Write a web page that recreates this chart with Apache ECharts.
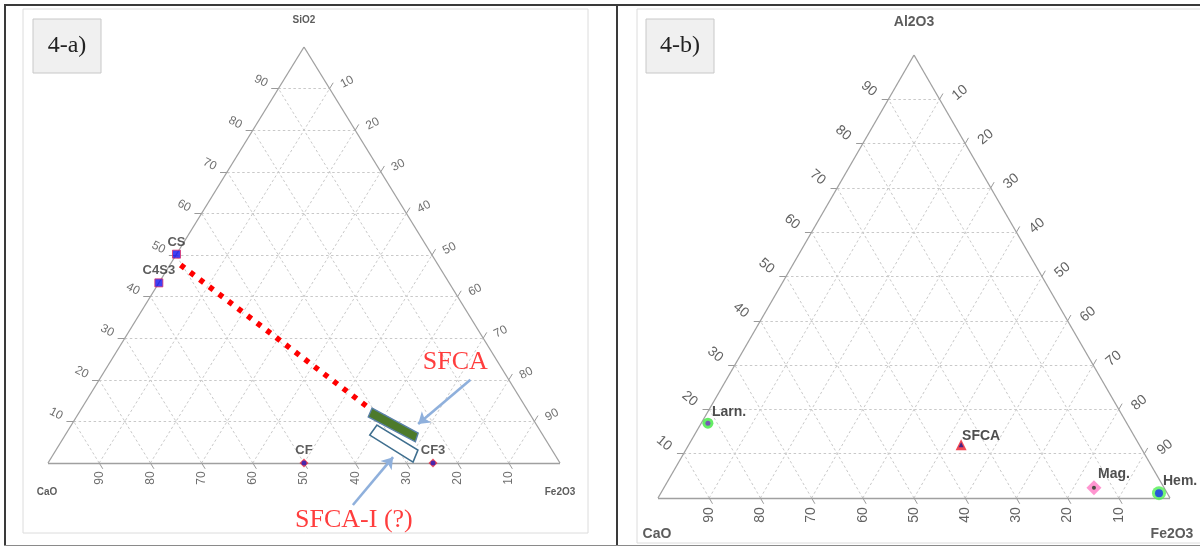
<!DOCTYPE html>
<html>
<head>
<meta charset="utf-8">
<script src="https://cdn.jsdelivr.net/npm/echarts@6/dist/echarts.min.js"></script>
<style>
  html, body { margin: 0; padding: 0; background: #fff; }
  #chart { width: 1200px; height: 547px; }
</style>
</head>
<body>
<div id="chart"></div>
<script>
// Percentage ticks shared by all three edges of both diagrams
const ticks = [10, 20, 30, 40, 50, 60, 70, 80, 90];

// 4-a) CaO–SiO2–Fe2O3 (wt%): each composition stored as SiO2 / Fe2O3, CaO is the remainder
const phaseNamesA = ['CS', 'C4S3', 'CF', 'CF3'];
const phaseSiO2A = [50.2, 43.3, 0, 0];
const phaseFe2O3A = [0, 0, 50, 75.2];
// dotted join from the CS corner towards the SFCA field
const tieSiO2 = [47.6, 12.7];
const tieFe2O3 = [2.1, 56.9];
// SFCA field (filled band) and SFCA-I field (open box), corner compositions
const sfcaSiO2 = [13.2, 7.2, 5.1, 11.1];
const sfcaFe2O3 = [56.7, 68.7, 69.2, 57.0];
const sfcaISiO2 = [9.1, 3.1, 0.2, 6.7];
const sfcaIFe2O3 = [59.7, 70.7, 71.2, 59.5];
// annotations: [text anchor, arrow tail, arrow head]
const noteSfcaSiO2 = [24.3, 20.0, 9.4];
const noteSfcaFe2O3 = [67.4, 72.5, 67.6];
const noteSfcaISiO2 = [-13.7, -10.1, 1.4];
const noteSfcaIFe2O3 = [66.6, 64.6, 66.7];

// 4-b) CaO–Al2O3–Fe2O3 (wt%): Al2O3 / Fe2O3, CaO is the remainder
const phaseNamesB = ['Larn.', 'SFCA', 'Mag.', 'Hem.'];
const phaseAl2O3B = [16.9, 12.0, 2.3, 1.1];
const phaseFe2O3B = [1.3, 53.2, 84.0, 97.3];

const SANS = 'Liberation Sans, Arial, sans-serif';
const SERIF = 'Liberation Serif, Times New Roman, serif';

// ternary (top component, right component) -> cartesian data space of the grid
function tern(top, right) { return [right + top / 2, top]; }

function triangleSeries(gi, st) {
  const ax = { xAxisIndex: gi, yAxisIndex: gi };
  const gridLines = [];
  ticks.forEach(k => {
    gridLines.push({ coords: [tern(k, 0), tern(k, 100 - k)] });
    gridLines.push({ coords: [tern(0, k), tern(100 - k, k)] });
    gridLines.push({ coords: [tern(0, 100 - k), tern(100 - k, 0)] });
  });
  const d = st.tickLen;
  const tickSegs = [];
  ticks.forEach(k => {
    tickSegs.push({ coords: [tern(k, 0), [k / 2 - d, k]] });
    tickSegs.push({ coords: [tern(100 - k, k), tern(100 - k + d, k)] });
    tickSegs.push({ coords: [tern(0, 100 - k), tern(-d, 100 - k + d)] });
  });
  const edges = [
    { coords: [tern(0, 0), tern(100, 0)] },
    { coords: [tern(100, 0), tern(0, 100)] },
    { coords: [tern(0, 100), tern(0, 0)] }
  ];
  const labelSeries = (pts, off, rot) => ({
    type: 'scatter', ...ax, clip: false, silent: true, z: 3,
    symbolSize: 1, itemStyle: { color: 'transparent' },
    data: pts,
    label: {
      show: true, formatter: p => p.name, position: off, rotate: rot,
      align: 'center', verticalAlign: 'middle',
      fontSize: st.tickFont, color: st.tickColor, fontFamily: SANS
    }
  });
  const vertexSeries = {
    type: 'scatter', ...ax, clip: false, silent: true, z: 3,
    symbolSize: 1, itemStyle: { color: 'transparent' },
    data: [
      { name: st.names[0], value: tern(100, 0), label: { position: st.nameOff[0] } },
      { name: st.names[1], value: tern(0, 0), label: { position: st.nameOff[1] } },
      { name: st.names[2], value: tern(0, 100), label: { position: st.nameOff[2] } }
    ],
    label: {
      show: true, formatter: p => p.name, align: 'center', verticalAlign: 'middle',
      fontSize: st.nameFont, fontWeight: 'bold', color: '#333', fontFamily: SANS
    }
  };
  return [
    { type: 'lines', coordinateSystem: 'cartesian2d', ...ax, clip: false, silent: true, z: 1,
      data: gridLines, lineStyle: { color: '#c9c9c9', width: 1, type: [2.5, 2.5], opacity: 1 } },
    { type: 'lines', coordinateSystem: 'cartesian2d', ...ax, clip: false, silent: true, z: 2,
      data: tickSegs, lineStyle: { color: '#9a9a9a', width: 1, opacity: 1 } },
    { type: 'lines', coordinateSystem: 'cartesian2d', ...ax, clip: false, silent: true, z: 2,
      data: edges, lineStyle: { color: '#a0a0a0', width: 1.3, opacity: 1 } },
    labelSeries(ticks.map(k => ({ name: String(k), value: tern(k, 0) })), st.leftOff, -st.rot),
    labelSeries(ticks.map(k => ({ name: String(k), value: tern(100 - k, k) })), st.rightOff, st.rot),
    labelSeries(ticks.map(k => ({ name: String(k), value: tern(0, 100 - k) })), st.bottomOff, 90),
    vertexSeries
  ];
}

function polygonSeries(gi, tops, rights, style, z) {
  const corners = tops.map((t, i) => tern(t, rights[i]));
  return {
    type: 'custom', xAxisIndex: gi, yAxisIndex: gi, clip: false, silent: true, z,
    data: [corners[0]],
    renderItem: (params, api) => ({
      type: 'polygon',
      shape: { points: corners.map(c => api.coord(c)) },
      style: style
    })
  };
}

function arrowSeries(gi, tops, rights) {
  return {
    type: 'lines', coordinateSystem: 'cartesian2d', xAxisIndex: gi, yAxisIndex: gi,
    clip: false, silent: true, z: 6,
    symbol: ['none', 'arrow'], symbolSize: 11,
    data: [{ coords: [tern(tops[1], rights[1]), tern(tops[2], rights[2])] }],
    lineStyle: { color: '#8fb0dc', width: 2.6, opacity: 1 }
  };
}

function noteSeries(gi, text, tops, rights) {
  return {
    type: 'scatter', xAxisIndex: gi, yAxisIndex: gi, clip: false, silent: true, z: 7,
    symbolSize: 1, itemStyle: { color: 'transparent' },
    data: [{ name: text, value: tern(tops[0], rights[0]) }],
    label: {
      show: true, formatter: p => p.name, position: [0.5, 0.5], align: 'center', verticalAlign: 'middle',
      fontSize: 26, color: '#ff0d0d', fontFamily: SERIF
    }
  };
}

const styleA = {
  tickLen: 1.4, tickFont: 12, tickColor: '#4a4a4a', rot: 27,
  leftOff: [-17, -7], rightOff: [18, -6], bottomOff: [0.5, 15.5],
  names: ['SiO2', 'CaO', 'Fe2O3'], nameFont: 10,
  nameOff: [[0.5, -26.5], [-0.5, 29.5], [0.5, 29.5]]
};
const styleB = {
  tickLen: 1.3, tickFont: 14, tickColor: '#3a3a3a', rot: 40,
  leftOff: [-19, -10], rightOff: [21, -6], bottomOff: [0.5, 17.5],
  names: ['Al2O3', 'CaO', 'Fe2O3'], nameFont: 14,
  nameOff: [[0.5, -32.5], [-0.5, 36.5], [2.5, 36.5]]
};

const ptsA = phaseNamesA.map((n, i) => ({ name: n, value: tern(phaseSiO2A[i], phaseFe2O3A[i]) }));
const ptsB = phaseNamesB.map((n, i) => ({ name: n, value: tern(phaseAl2O3B[i], phaseFe2O3B[i]) }));

// 4-b) marker looks: halo symbol/size/colour, core symbol/size/colour, name offset from rect corner
const haloB = [['circle', 11, '#3ee83e'], ['triangle', 11, '#ee1c2c'], ['diamond', 15, '#ff7ac4'], ['circle', 14, '#52f052']];
const coreB = [['circle', 5, '#7a34c8'], ['triangle', 5, '#1a1a90'], ['circle', 4, '#1e3a1e'], ['circle', 8, '#1430f0']];
const nameOffB = [[9.5, -5.5], [6.5, -3.5], [11.5, -6.5], [11, -5]];

const series = [
  ...triangleSeries(0, styleA),
  ...triangleSeries(1, styleB),

  // 4-a) dotted join, SFCA fields, arrows and notes
  { type: 'lines', coordinateSystem: 'cartesian2d', xAxisIndex: 0, yAxisIndex: 0, clip: false, silent: true, z: 4,
    data: [{ coords: [tern(tieSiO2[0], tieFe2O3[0]), tern(tieSiO2[1], tieFe2O3[1])] }],
    lineStyle: { color: '#ff0000', width: 5.5, type: [5, 7], cap: 'butt', opacity: 1 } },
  polygonSeries(0, sfcaISiO2, sfcaIFe2O3, { fill: '#ffffff', stroke: '#3f6f8f', lineWidth: 1.6 }, 5),
  polygonSeries(0, sfcaSiO2, sfcaFe2O3, { fill: '#4d7a2b', stroke: '#5a80a8', lineWidth: 1.4 }, 5),
  arrowSeries(0, noteSfcaSiO2, noteSfcaFe2O3),
  arrowSeries(0, noteSfcaISiO2, noteSfcaIFe2O3),
  noteSeries(0, 'SFCA', noteSfcaSiO2, noteSfcaFe2O3),
  noteSeries(0, 'SFCA-I (?)', noteSfcaISiO2, noteSfcaIFe2O3),

  // 4-a) phases: silicates as squares, ferrites as diamonds
  { type: 'scatter', xAxisIndex: 0, yAxisIndex: 0, clip: false, z: 8,
    data: ptsA.slice(0, 2), symbol: 'rect', symbolSize: 8,
    itemStyle: { color: '#1010f0', borderColor: '#e0306a', borderWidth: 1 },
    label: { show: true, formatter: p => p.name, position: 'top', distance: 1,
      fontSize: 13, fontWeight: 'bold', color: '#333', fontFamily: SANS } },
  { type: 'scatter', xAxisIndex: 0, yAxisIndex: 0, clip: false, z: 8,
    data: ptsA.slice(2), symbol: 'diamond', symbolSize: 9,
    itemStyle: { color: '#e8203a' },
    label: { show: true, formatter: p => p.name, position: 'top', distance: 2,
      fontSize: 13, fontWeight: 'bold', color: '#333', fontFamily: SANS } },
  { type: 'scatter', xAxisIndex: 0, yAxisIndex: 0, clip: false, z: 9,
    data: ptsA.slice(2), symbol: 'circle', symbolSize: 5, itemStyle: { color: '#2020c0' } },

  // 4-b) phases: coloured halo with a darker core
  { type: 'scatter', xAxisIndex: 1, yAxisIndex: 1, clip: false, z: 8,
    data: ptsB.map((p, i) => ({
      name: p.name, value: p.value, symbol: haloB[i][0], symbolSize: haloB[i][1],
      itemStyle: { color: haloB[i][2] }, label: { position: nameOffB[i] }
    })),
    label: { show: true, formatter: p => p.name, align: 'left', verticalAlign: 'middle',
      fontSize: 14, fontWeight: 'bold', color: '#222', fontFamily: SANS } },
  { type: 'scatter', xAxisIndex: 1, yAxisIndex: 1, clip: false, z: 9,
    data: ptsB.map((p, i) => ({
      value: p.value, symbol: coreB[i][0], symbolSize: coreB[i][1], itemStyle: { color: coreB[i][2] }
    })) }
];

const panelFrames = [
  { type: 'rect', shape: { x: 23, y: 9, width: 565, height: 524 }, style: { fill: 'none', stroke: '#dcdcdc', lineWidth: 1 }, silent: true },
  { type: 'rect', shape: { x: 637, y: 9, width: 580, height: 534 }, style: { fill: 'none', stroke: '#dcdcdc', lineWidth: 1 }, silent: true },
  { type: 'line', shape: { x1: 4, y1: 5, x2: 1200, y2: 5 }, style: { stroke: '#3a3a3a', lineWidth: 2 }, silent: true },
  { type: 'line', shape: { x1: 5, y1: 4, x2: 5, y2: 546 }, style: { stroke: '#3a3a3a', lineWidth: 2 }, silent: true },
  { type: 'line', shape: { x1: 617, y1: 4, x2: 617, y2: 546 }, style: { stroke: '#3a3a3a', lineWidth: 2 }, silent: true },
  { type: 'line', shape: { x1: 4, y1: 545.5, x2: 1200, y2: 545.5 }, style: { stroke: '#8a8a8a', lineWidth: 1 }, silent: true },
  { type: 'rect', shape: { x: 33, y: 19, width: 68, height: 54 }, style: { fill: '#f0f0f0', stroke: '#c8c8c8', lineWidth: 1 }, silent: true },
  { type: 'text', x: 67, y: 46, style: { text: '4-a)', font: '24px ' + SERIF, fill: '#222', align: 'center', verticalAlign: 'middle' }, silent: true },
  { type: 'rect', shape: { x: 646, y: 19, width: 68, height: 54 }, style: { fill: '#f0f0f0', stroke: '#c8c8c8', lineWidth: 1 }, silent: true },
  { type: 'text', x: 680, y: 46, style: { text: '4-b)', font: '24px ' + SERIF, fill: '#222', align: 'center', verticalAlign: 'middle' }, silent: true }
];

const axisOff = { show: false, min: 0, max: 100 };
const chart = echarts.init(document.getElementById('chart'));
chart.setOption({
  animation: false,
  backgroundColor: '#ffffff',
  grid: [
    { left: 48, top: 47, width: 512, height: 416 },
    { left: 658, top: 55, width: 512, height: 443 }
  ],
  xAxis: [{ ...axisOff, gridIndex: 0, type: 'value' }, { ...axisOff, gridIndex: 1, type: 'value' }],
  yAxis: [{ ...axisOff, gridIndex: 0, type: 'value' }, { ...axisOff, gridIndex: 1, type: 'value' }],
  graphic: panelFrames,
  series: series
});
</script>
</body>
</html>
